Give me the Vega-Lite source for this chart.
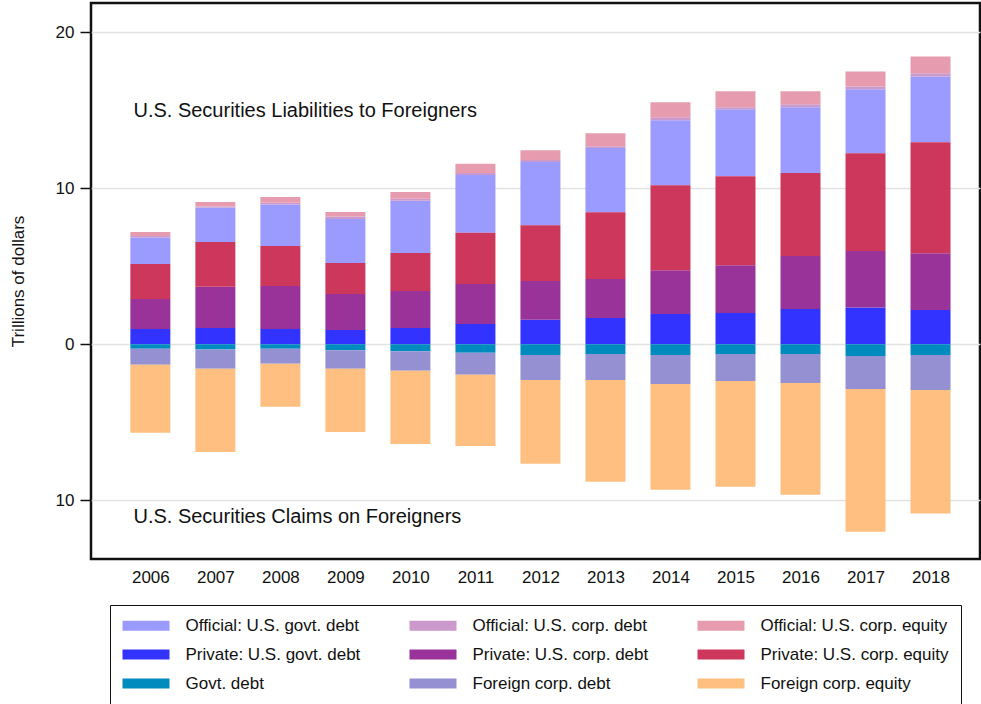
{
  "$schema": "https://vega.github.io/schema/vega-lite/v6.json",
  "autosize": {"type": "none"},
  "padding": {"left": 91, "top": 3, "right": 1, "bottom": 145},
  "width": 889,
  "height": 556,
  "config": {
    "font": "Liberation Sans",
    "view": {"stroke": "#111111", "strokeWidth": 2.5},
    "axis": {"labelFont": "Liberation Sans", "titleFont": "Liberation Sans", "labelColor": "#111111", "titleColor": "#111111"},
    "legend": {"strokeColor": "#111111", "padding": 12}
  },
  "datasets": {
    "flows": [
      {"year": 2006, "series": "Official: U.S. govt. debt", "value": 1.69},
      {"year": 2006, "series": "Official: U.S. corp. debt", "value": 0.10},
      {"year": 2006, "series": "Official: U.S. corp. equity", "value": 0.26},
      {"year": 2006, "series": "Private: U.S. govt. debt", "value": 0.98},
      {"year": 2006, "series": "Private: U.S. corp. debt", "value": 1.93},
      {"year": 2006, "series": "Private: U.S. corp. equity", "value": 2.24},
      {"year": 2006, "series": "Govt. debt", "value": -0.28},
      {"year": 2006, "series": "Foreign corp. debt", "value": -1.03},
      {"year": 2006, "series": "Foreign corp. equity", "value": -4.36},
      {"year": 2007, "series": "Official: U.S. govt. debt", "value": 2.20},
      {"year": 2007, "series": "Official: U.S. corp. debt", "value": 0.06},
      {"year": 2007, "series": "Official: U.S. corp. equity", "value": 0.30},
      {"year": 2007, "series": "Private: U.S. govt. debt", "value": 1.05},
      {"year": 2007, "series": "Private: U.S. corp. debt", "value": 2.63},
      {"year": 2007, "series": "Private: U.S. corp. equity", "value": 2.88},
      {"year": 2007, "series": "Govt. debt", "value": -0.34},
      {"year": 2007, "series": "Foreign corp. debt", "value": -1.22},
      {"year": 2007, "series": "Foreign corp. equity", "value": -5.34},
      {"year": 2008, "series": "Official: U.S. govt. debt", "value": 2.65},
      {"year": 2008, "series": "Official: U.S. corp. debt", "value": 0.11},
      {"year": 2008, "series": "Official: U.S. corp. equity", "value": 0.38},
      {"year": 2008, "series": "Private: U.S. govt. debt", "value": 0.98},
      {"year": 2008, "series": "Private: U.S. corp. debt", "value": 2.76},
      {"year": 2008, "series": "Private: U.S. corp. equity", "value": 2.56},
      {"year": 2008, "series": "Govt. debt", "value": -0.28},
      {"year": 2008, "series": "Foreign corp. debt", "value": -0.96},
      {"year": 2008, "series": "Foreign corp. equity", "value": -2.76},
      {"year": 2009, "series": "Official: U.S. govt. debt", "value": 2.82},
      {"year": 2009, "series": "Official: U.S. corp. debt", "value": 0.15},
      {"year": 2009, "series": "Official: U.S. corp. equity", "value": 0.30},
      {"year": 2009, "series": "Private: U.S. govt. debt", "value": 0.92},
      {"year": 2009, "series": "Private: U.S. corp. debt", "value": 2.31},
      {"year": 2009, "series": "Private: U.S. corp. equity", "value": 1.98},
      {"year": 2009, "series": "Govt. debt", "value": -0.38},
      {"year": 2009, "series": "Foreign corp. debt", "value": -1.18},
      {"year": 2009, "series": "Foreign corp. equity", "value": -4.05},
      {"year": 2010, "series": "Official: U.S. govt. debt", "value": 3.34},
      {"year": 2010, "series": "Official: U.S. corp. debt", "value": 0.13},
      {"year": 2010, "series": "Official: U.S. corp. equity", "value": 0.44},
      {"year": 2010, "series": "Private: U.S. govt. debt", "value": 1.05},
      {"year": 2010, "series": "Private: U.S. corp. debt", "value": 2.37},
      {"year": 2010, "series": "Private: U.S. corp. equity", "value": 2.43},
      {"year": 2010, "series": "Govt. debt", "value": -0.45},
      {"year": 2010, "series": "Foreign corp. debt", "value": -1.24},
      {"year": 2010, "series": "Foreign corp. equity", "value": -4.69},
      {"year": 2011, "series": "Official: U.S. govt. debt", "value": 3.71},
      {"year": 2011, "series": "Official: U.S. corp. debt", "value": 0.13},
      {"year": 2011, "series": "Official: U.S. corp. equity", "value": 0.58},
      {"year": 2011, "series": "Private: U.S. govt. debt", "value": 1.30},
      {"year": 2011, "series": "Private: U.S. corp. debt", "value": 2.57},
      {"year": 2011, "series": "Private: U.S. corp. equity", "value": 3.27},
      {"year": 2011, "series": "Govt. debt", "value": -0.54},
      {"year": 2011, "series": "Foreign corp. debt", "value": -1.41},
      {"year": 2011, "series": "Foreign corp. equity", "value": -4.56},
      {"year": 2012, "series": "Official: U.S. govt. debt", "value": 4.05},
      {"year": 2012, "series": "Official: U.S. corp. debt", "value": 0.13},
      {"year": 2012, "series": "Official: U.S. corp. equity", "value": 0.62},
      {"year": 2012, "series": "Private: U.S. govt. debt", "value": 1.58},
      {"year": 2012, "series": "Private: U.S. corp. debt", "value": 2.47},
      {"year": 2012, "series": "Private: U.S. corp. equity", "value": 3.58},
      {"year": 2012, "series": "Govt. debt", "value": -0.68},
      {"year": 2012, "series": "Foreign corp. debt", "value": -1.60},
      {"year": 2012, "series": "Foreign corp. equity", "value": -5.37},
      {"year": 2013, "series": "Official: U.S. govt. debt", "value": 4.12},
      {"year": 2013, "series": "Official: U.S. corp. debt", "value": 0.11},
      {"year": 2013, "series": "Official: U.S. corp. equity", "value": 0.83},
      {"year": 2013, "series": "Private: U.S. govt. debt", "value": 1.68},
      {"year": 2013, "series": "Private: U.S. corp. debt", "value": 2.50},
      {"year": 2013, "series": "Private: U.S. corp. equity", "value": 4.28},
      {"year": 2013, "series": "Govt. debt", "value": -0.62},
      {"year": 2013, "series": "Foreign corp. debt", "value": -1.66},
      {"year": 2013, "series": "Foreign corp. equity", "value": -6.53},
      {"year": 2014, "series": "Official: U.S. govt. debt", "value": 4.16},
      {"year": 2014, "series": "Official: U.S. corp. debt", "value": 0.19},
      {"year": 2014, "series": "Official: U.S. corp. equity", "value": 0.96},
      {"year": 2014, "series": "Private: U.S. govt. debt", "value": 1.94},
      {"year": 2014, "series": "Private: U.S. corp. debt", "value": 2.81},
      {"year": 2014, "series": "Private: U.S. corp. equity", "value": 5.44},
      {"year": 2014, "series": "Govt. debt", "value": -0.68},
      {"year": 2014, "series": "Foreign corp. debt", "value": -1.86},
      {"year": 2014, "series": "Foreign corp. equity", "value": -6.78},
      {"year": 2015, "series": "Official: U.S. govt. debt", "value": 4.28},
      {"year": 2015, "series": "Official: U.S. corp. debt", "value": 0.13},
      {"year": 2015, "series": "Official: U.S. corp. equity", "value": 1.02},
      {"year": 2015, "series": "Private: U.S. govt. debt", "value": 2.00},
      {"year": 2015, "series": "Private: U.S. corp. debt", "value": 3.07},
      {"year": 2015, "series": "Private: U.S. corp. equity", "value": 5.70},
      {"year": 2015, "series": "Govt. debt", "value": -0.62},
      {"year": 2015, "series": "Foreign corp. debt", "value": -1.73},
      {"year": 2015, "series": "Foreign corp. equity", "value": -6.78},
      {"year": 2016, "series": "Official: U.S. govt. debt", "value": 4.20},
      {"year": 2016, "series": "Official: U.S. corp. debt", "value": 0.19},
      {"year": 2016, "series": "Official: U.S. corp. equity", "value": 0.83},
      {"year": 2016, "series": "Private: U.S. govt. debt", "value": 2.26},
      {"year": 2016, "series": "Private: U.S. corp. debt", "value": 3.39},
      {"year": 2016, "series": "Private: U.S. corp. equity", "value": 5.33},
      {"year": 2016, "series": "Govt. debt", "value": -0.62},
      {"year": 2016, "series": "Foreign corp. debt", "value": -1.85},
      {"year": 2016, "series": "Foreign corp. equity", "value": -7.17},
      {"year": 2017, "series": "Official: U.S. govt. debt", "value": 4.09},
      {"year": 2017, "series": "Official: U.S. corp. debt", "value": 0.19},
      {"year": 2017, "series": "Official: U.S. corp. equity", "value": 0.96},
      {"year": 2017, "series": "Private: U.S. govt. debt", "value": 2.35},
      {"year": 2017, "series": "Private: U.S. corp. debt", "value": 3.62},
      {"year": 2017, "series": "Private: U.S. corp. equity", "value": 6.27},
      {"year": 2017, "series": "Govt. debt", "value": -0.75},
      {"year": 2017, "series": "Foreign corp. debt", "value": -2.11},
      {"year": 2017, "series": "Foreign corp. equity", "value": -9.14},
      {"year": 2018, "series": "Official: U.S. govt. debt", "value": 4.22},
      {"year": 2018, "series": "Official: U.S. corp. debt", "value": 0.20},
      {"year": 2018, "series": "Official: U.S. corp. equity", "value": 1.08},
      {"year": 2018, "series": "Private: U.S. govt. debt", "value": 2.20},
      {"year": 2018, "series": "Private: U.S. corp. debt", "value": 3.64},
      {"year": 2018, "series": "Private: U.S. corp. equity", "value": 7.10},
      {"year": 2018, "series": "Govt. debt", "value": -0.68},
      {"year": 2018, "series": "Foreign corp. debt", "value": -2.24},
      {"year": 2018, "series": "Foreign corp. equity", "value": -7.91}
    ]
  },
  "layer": [
    {
      "data": {"name": "flows"},
      "transform": [
        {"calculate": "indexof(['Private: U.S. govt. debt','Private: U.S. corp. debt','Private: U.S. corp. equity','Official: U.S. govt. debt','Official: U.S. corp. debt','Official: U.S. corp. equity','Govt. debt','Foreign corp. debt','Foreign corp. equity'], datum.series)", "as": "stackOrder"}
      ],
      "mark": {"type": "bar", "width": 40},
      "encoding": {
        "x": {
          "field": "year", "type": "quantitative",
          "scale": {"domain": [2005.164, 2018.684], "nice": false, "zero": false},
          "axis": {"values": [2006, 2007, 2008, 2009, 2010, 2011, 2012, 2013, 2014, 2015, 2016, 2017, 2018], "format": "d", "grid": false, "ticks": false, "tickSize": 0, "domain": false, "labelFontSize": 17, "labelPadding": 10, "labelFlush": false, "title": null}
        },
        "y": {
          "field": "value", "type": "quantitative", "stack": "zero",
          "scale": {"domain": [-13.75, 21.86], "nice": false, "zero": false},
          "axis": {"values": [-10, 0, 10, 20], "labelExpr": "format(abs(datum.value), 'd')", "grid": true, "gridColor": "#e2e2e2", "gridWidth": 1.5, "domain": false, "tickColor": "#111111", "tickSize": 11, "tickWidth": 1.5, "labelFontSize": 17, "labelPadding": 6, "title": "Trillions of dollars", "titleFontSize": 17, "titleFontWeight": "normal", "titlePadding": 28}
        },
        "color": {
          "field": "series", "type": "nominal",
          "scale": {
            "domain": ["Official: U.S. govt. debt", "Official: U.S. corp. debt", "Official: U.S. corp. equity", "Private: U.S. govt. debt", "Private: U.S. corp. debt", "Private: U.S. corp. equity", "Govt. debt", "Foreign corp. debt", "Foreign corp. equity"],
            "range": ["#9b9bff", "#cc99cc", "#e69cae", "#3333ff", "#993399", "#cc375b", "#008bbf", "#9490d1", "#ffbf80"]
          },
          "legend": {
            "orient": "none", "legendX": 19, "legendY": 602,
            "columns": 3, "direction": "horizontal",
            "title": null,
            "symbolType": "M-4.7,-1H4.7V1H-4.7Z", "symbolSize": 100, "symbolOffset": 15.5, "symbolStrokeWidth": 0, "symbolOpacity": 1,
            "labelOffset": 31, "labelFontSize": 17, "labelFont": "Liberation Sans", "labelColor": "#111111", "labelLimit": 400,
            "rowPadding": 11, "columnPadding": 48
          }
        },
        "order": {"field": "stackOrder", "type": "quantitative"}
      }
    },
    {
      "data": {"values": [{}]},
      "mark": {"type": "text", "align": "left", "baseline": "middle", "fontSize": 20, "font": "Liberation Sans", "color": "#111111"},
      "encoding": {
        "x": {"datum": 2005.74, "type": "quantitative", "scale": {"domain": [2005.164, 2018.684], "nice": false, "zero": false}},
        "y": {"datum": 14.95, "type": "quantitative", "scale": {"domain": [-13.75, 21.86], "nice": false, "zero": false}},
        "text": {"value": "U.S. Securities Liabilities to Foreigners"}
      }
    },
    {
      "data": {"values": [{}]},
      "mark": {"type": "text", "align": "left", "baseline": "middle", "fontSize": 20, "font": "Liberation Sans", "color": "#111111"},
      "encoding": {
        "x": {"datum": 2005.74, "type": "quantitative", "scale": {"domain": [2005.164, 2018.684], "nice": false, "zero": false}},
        "y": {"datum": -11.06, "type": "quantitative", "scale": {"domain": [-13.75, 21.86], "nice": false, "zero": false}},
        "text": {"value": "U.S. Securities Claims on Foreigners"}
      }
    }
  ]
}
